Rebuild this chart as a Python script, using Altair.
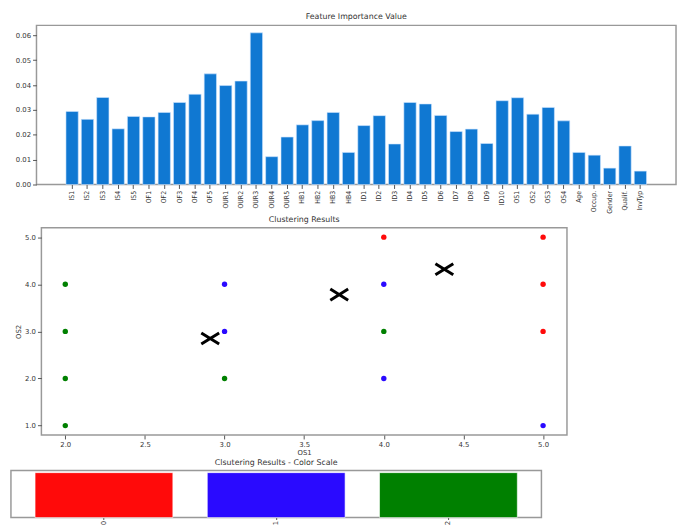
import altair as alt
import pandas as pd

# ---- data ----
features = ["IS1", "IS2", "IS3", "IS4", "IS5", "OF1", "OF2", "OF3", "OF4", "OF5",
            "OUR1", "OUR2", "OUR3", "OUR4", "OUR5", "HB1", "HB2", "HB3", "HB4",
            "ID1", "ID2", "ID3", "ID4", "ID5", "ID6", "ID7", "ID8", "ID9", "ID10",
            "OS1", "OS2", "OS3", "OS4", "Age", "Occup.", "Gender", "Qualif.", "InvTyp"]
importance = [0.0294, 0.0262, 0.0350, 0.0224, 0.0274, 0.0272, 0.0290, 0.0330, 0.0363, 0.0445,
              0.0398, 0.0416, 0.0610, 0.0112, 0.0191, 0.0240, 0.0257, 0.0290, 0.0129,
              0.0237, 0.0277, 0.0163, 0.0330, 0.0324, 0.0278, 0.0213, 0.0223, 0.0165, 0.0337,
              0.0349, 0.0283, 0.0310, 0.0256, 0.0129, 0.0118, 0.0066, 0.0155, 0.0054]

os1 = [2, 2, 2, 2, 3, 3, 3, 4, 4, 4, 4, 5, 5, 5, 5]
os2 = [4, 3, 2, 1, 4, 3, 2, 5, 4, 3, 2, 5, 4, 3, 1]
cluster = ["2", "2", "2", "2", "1", "1", "2", "0", "1", "2", "1", "0", "0", "0", "1"]

centroid_x = [2.91, 3.72, 4.38]
centroid_y = [2.85, 3.78, 4.32]

cluster_ids = ["0", "1", "2"]
cluster_colors = ["#ff0a0a", "#2a0aff", "#008000"]
scale_values = [1, 1, 1]

feat_df = pd.DataFrame({"feature": features, "importance": importance})
pts_df = pd.DataFrame({"OS1": os1, "OS2": os2, "cluster": cluster})
cen_df = pd.DataFrame({"OS1": centroid_x, "OS2": centroid_y})
scale_df = pd.DataFrame({"cluster": cluster_ids, "value": scale_values})

FONT = "DejaVu Sans"
GRAY = "#999999"
TXT = "#333333"

TOP_W = 651


def spacer():
    # invisible 1px cell so that the next panel is laid out on its own
    return alt.Chart(pd.DataFrame({"v": [0]})).mark_point(opacity=0).encode(
        x=alt.value(0), y=alt.value(0)
    ).properties(width=1, height=1, view=alt.ViewBackground(stroke=None, strokeWidth=0))


# ---- panel 1: feature importance ----
top = alt.Chart(feat_df, title=alt.Title("Feature Importance Value")).mark_bar(
    color="#1078d2", stroke="#cfe6ff", strokeWidth=0.6
).encode(
    x=alt.X("feature:N", sort=features, title=None,
            scale=alt.Scale(paddingInner=0.2, paddingOuter=0, range=[30, TOP_W - 30]),
            axis=alt.Axis(labelAngle=-90, labelFont="DejaVu Sans Condensed", labelFontSize=7,
                          labelPadding=2, domain=False)),
    y=alt.Y("importance:Q", title=None,
            scale=alt.Scale(domain=[0, 0.064], nice=False),
            axis=alt.Axis(values=[0, 0.01, 0.02, 0.03, 0.04, 0.05, 0.06], format=".2f",
                          grid=False, domain=False)),
).properties(width=TOP_W, height=162)

# ---- panel 2: clustering scatter ----
color_scale = alt.Scale(domain=cluster_ids, range=cluster_colors)
xs = alt.Scale(domain=[1.85, 5.15], nice=False, zero=False)
ys = alt.Scale(domain=[0.8, 5.2], nice=False, zero=False)

pts = alt.Chart(pts_df).mark_circle(size=30, opacity=1).encode(
    x=alt.X("OS1:Q", scale=xs, title="OS1",
            axis=alt.Axis(values=[2.0, 2.5, 3.0, 3.5, 4.0, 4.5, 5.0], format=".1f",
                          grid=False, domain=False, titlePadding=1)),
    y=alt.Y("OS2:Q", scale=ys, title="OS2",
            axis=alt.Axis(values=[1.0, 1.5, 2.0, 2.5, 3.0, 3.5, 4.0, 4.5, 5.0], format=".1f",
                          grid=False, domain=False)),
    color=alt.Color("cluster:N", scale=color_scale, legend=None),
)
cen = alt.Chart(cen_df).mark_point(
    shape="M-1,-0.62L1,0.62M-1,0.62L1,-0.62", size=330, filled=False,
    stroke="black", strokeWidth=3, opacity=1
).encode(
    x=alt.X("OS1:Q", scale=xs),
    y=alt.Y("OS2:Q", scale=ys),
)
scatter = alt.layer(pts, cen, title=alt.Title("Clustering Results")).properties(
    width=535, height=211)

# ---- panel 3: color scale ----
cscale = alt.Chart(scale_df, title=alt.Title("Clsutering Results - Color Scale")).mark_bar(
    stroke="white", strokeWidth=0.6
).encode(
    x=alt.X("cluster:N", title=None, scale=alt.Scale(paddingInner=0.2, paddingOuter=0.14),
            axis=alt.Axis(labelAngle=-90, domain=False, labelPadding=1, tickSize=2)),
    y=alt.Y("value:Q", title=None, scale=alt.Scale(domain=[0, 1.05], nice=False),
            axis=None),
    color=alt.Color("cluster:N", scale=color_scale, legend=None),
).properties(width=540, height=48)

chart = alt.vconcat(
    alt.hconcat(spacer(), top, spacing=0),
    alt.hconcat(spacer(), scatter, spacing=0),
    cscale,
    spacing=1,
).properties(
    padding=0
).configure_view(
    stroke=GRAY, strokeWidth=1.5
).configure_axis(
    labelFont=FONT, labelFontSize=7, labelColor=TXT,
    titleFont=FONT, titleFontSize=7, titleFontWeight="normal", titleColor=TXT,
    tickColor="#555555", tickSize=4, titlePadding=3
).configure_title(
    font=FONT, fontSize=8, fontWeight="normal", color=TXT, offset=0, anchor="middle"
)

chart.save("out.html", embed_options={"renderer": "svg", "actions": False})
